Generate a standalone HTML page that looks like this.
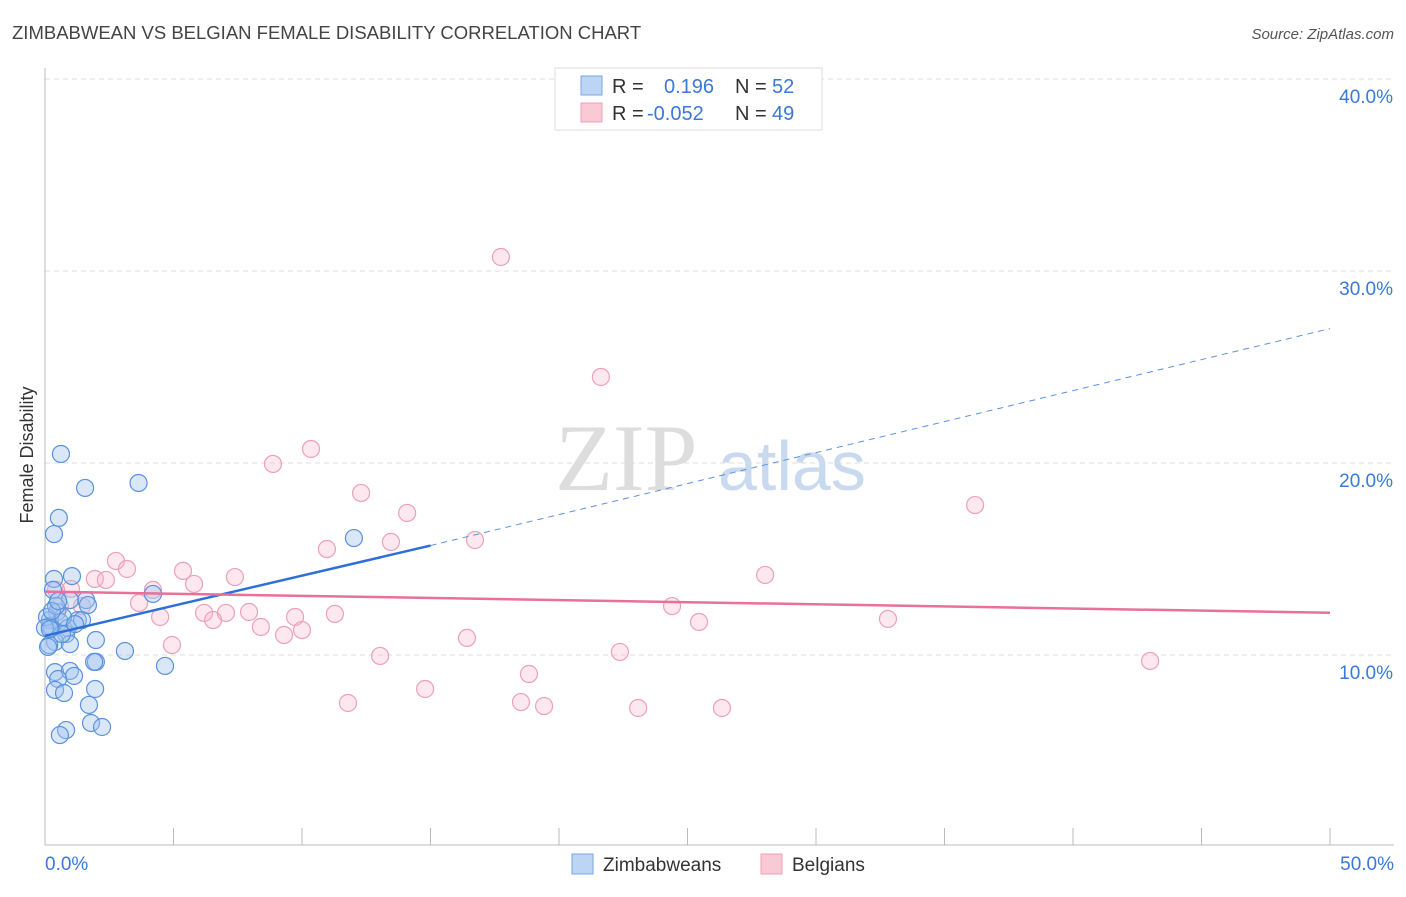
<!DOCTYPE html>
<html><head><meta charset="utf-8"><style>
body{margin:0;background:#fff;font-family:"Liberation Sans",sans-serif}
</style></head><body>
<svg id="c" width="1406" height="892" xmlns="http://www.w3.org/2000/svg" style="font-family:'Liberation Sans',sans-serif">
<text x="12" y="39" font-size="18.5" fill="#444">ZIMBABWEAN VS BELGIAN FEMALE DISABILITY CORRELATION CHART</text>
<text x="1394" y="39" font-size="15" fill="#555" text-anchor="end" font-style="italic">Source: ZipAtlas.com</text>
<text x="555" y="490" font-size="95" fill="#ddd" font-family="Liberation Serif">ZIP</text>
<text x="718" y="490" font-size="70" fill="#c9daf0">atlas</text>
<text transform="translate(33,455) rotate(-90)" font-size="18" fill="#333" text-anchor="middle">Female Disability</text>
<g id="grid"></g><g id="pts"></g><g id="lines"></g>
<g>
<rect x="555" y="68" width="267" height="62" fill="#fff" stroke="#ddd"/>
<rect x="581" y="76" width="21" height="19" fill="#bcd5f5" stroke="#7aa6e0"/>
<rect x="581" y="103" width="21" height="19" fill="#f9c9d6" stroke="#eda0b6"/>
<text x="612" y="93" font-size="20" fill="#333">R =</text><text x="664" y="93" font-size="20" fill="#3b78d8">0.196</text>
<text x="735" y="93" font-size="20" fill="#333">N =</text><text x="772" y="93" font-size="20" fill="#3b78d8">52</text>
<text x="612" y="120" font-size="20" fill="#333">R =</text><text x="647" y="120" font-size="20" fill="#3b78d8">-0.052</text>
<text x="735" y="120" font-size="20" fill="#333">N =</text><text x="772" y="120" font-size="20" fill="#3b78d8">49</text>
</g>
<g>
<rect x="572" y="854" width="21" height="20" fill="#bcd5f5" stroke="#7aa6e0"/><text x="603" y="871" font-size="19" fill="#333">Zimbabweans</text>
<rect x="761" y="854" width="21" height="20" fill="#f9c9d6" stroke="#eda0b6"/><text x="792" y="871" font-size="19" fill="#333">Belgians</text>
</g>
</svg>
<script>
const yTicks=[10,20,30,40];
const yTickLabels=["10.0%","20.0%","30.0%","40.0%"];
const xTickLabels=["0.0%","50.0%"];
const blueX=[0.62,1.56,3.64,12.02,0.54,0.35,0.35,1.05,0.31,1.60,1.28,0.97,0.47,0.19,0.58,0.27,0.89,0.82,0.39,0.16,0.97,1.98,3.11,1.98,1.91,4.67,0.39,0.97,0.51,1.13,0.39,0.74,1.95,1.71,1.79,2.22,0.82,0.58,4.20,0.19,0.08,0.70,0,1.44,0.43,0.27,0.51,0.12,1.67,1.17,0.66,0.19];
const blueY=[20.47,18.70,18.96,16.09,17.14,16.30,13.96,14.11,13.39,12.86,11.82,12.86,12.24,11.82,11.72,11.41,11.41,11.09,10.68,10.52,10.57,10.78,10.21,9.64,9.64,9.43,9.11,9.17,8.75,8.91,8.18,8.02,8.23,7.40,6.46,6.25,6.09,5.83,13.18,11.51,11.98,11.98,11.41,11.82,12.55,12.29,12.81,10.42,12.60,11.61,11.09,11.35];
const pinkX=[17.74,21.63,10.35,8.87,36.19,12.30,14.09,10.97,13.46,16.73,2.76,3.19,5.37,1.94,2.37,7.39,5.80,4.20,1.01,0.43,3.66,1.44,4.48,6.19,6.54,7.04,7.94,8.40,9.73,10.00,11.28,9.30,24.40,25.45,32.80,28.02,16.42,4.94,13.04,22.37,18.83,14.79,11.79,18.52,19.42,23.08,26.34,43.00,0.58];
const pinkY=[30.73,24.48,20.73,19.95,17.81,18.44,17.40,15.52,15.89,15.99,14.90,14.48,14.38,13.96,13.91,14.06,13.70,13.39,13.44,13.39,12.71,12.55,11.98,12.19,11.82,12.19,12.24,11.46,11.98,11.30,12.14,11.04,12.55,11.72,11.88,14.17,10.89,10.52,9.95,10.16,9.01,8.23,7.50,7.55,7.34,7.24,7.24,9.69,12.55];
const blueTrend=[11.0,0.30,15.7,15.0,27.0,50];
const pinkTrend=[13.3,0,12.2,50];
const NS="http://www.w3.org/2000/svg";
const X=v=>45+v/50*1285, Y=v=>847-v/10*192;
function mk(t,a,p){const e=document.createElementNS(NS,t);for(const k in a)e.setAttribute(k,a[k]);document.getElementById(p).appendChild(e);return e;}
yTicks.forEach((t,i)=>{
 const g=mk('line',{x1:45,x2:1394,y1:Y(t),y2:Y(t),stroke:'#ddd','stroke-dasharray':'5,4'},'grid');
 
 
 const l=mk('text',{x:1393,y:Y(t)+24,'font-size':19,fill:'#3b78d8','text-anchor':'end'},'grid');l.textContent=yTickLabels[i];
 
 
});
const ax=mk('line',{x1:45,x2:1394,y1:845,y2:845,stroke:'#bbb'},'grid');


const ay=mk('line',{x1:45,x2:45,y1:68,y2:845,stroke:'#bbb'},'grid');


for(let i=0;i<=10;i++){const t=mk('line',{x1:X(i*5),x2:X(i*5),y1:828,y2:845,stroke:'#bbb'},'grid');
 
 }
[[0,'start',45],[1,'end',1394]].forEach(([i,a,x])=>{const l=mk('text',{x:x,y:870,'font-size':19,fill:'#3b78d8','text-anchor':a},'grid');l.textContent=xTickLabels[i];
 
 });
pinkX.forEach((v,i)=>{const c=mk('circle',{cx:X(v),cy:Y(pinkY[i]),r:8.5,fill:'rgba(246,180,200,0.3)',stroke:'#eda0b6','stroke-width':1.2},'pts');
 
 });
blueX.forEach((v,i)=>{const c=mk('circle',{cx:X(v),cy:Y(blueY[i]),r:8.5,fill:'rgba(160,196,240,0.4)',stroke:'#5b92dc','stroke-width':1.2},'pts');
 
 });
const bl=mk('line',{x1:X(0),y1:Y(blueTrend[0]),x2:X(blueTrend[3]),y2:Y(blueTrend[2]),stroke:'#2d6fd6','stroke-width':2.5},'lines');


const bd=mk('line',{x1:X(blueTrend[3]),y1:Y(blueTrend[2]),x2:X(blueTrend[5]),y2:Y(blueTrend[4]),stroke:'#5b92dc','stroke-width':1,'stroke-dasharray':'6,5'},'lines');


const pl=mk('line',{x1:X(pinkTrend[1]),y1:Y(pinkTrend[0]),x2:X(pinkTrend[3]),y2:Y(pinkTrend[2]),stroke:'#e8709a','stroke-width':2.5},'lines');


</script>
</body></html>
